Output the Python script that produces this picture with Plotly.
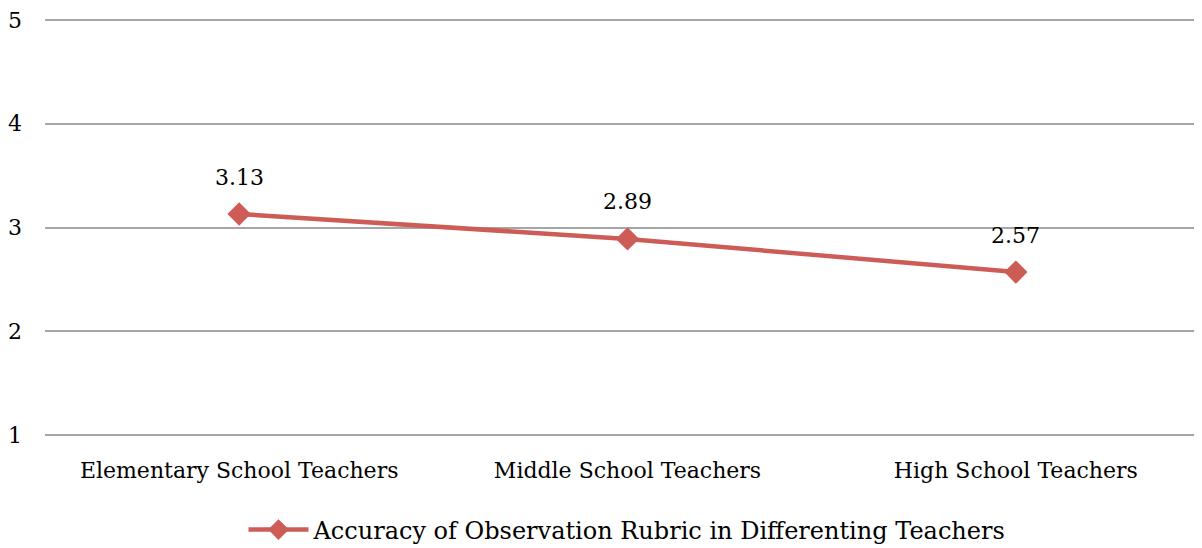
import plotly.graph_objects as go

categories = ["Elementary School Teachers", "Middle School Teachers", "High School Teachers"]
values = [3.13, 2.89, 2.57]
labels = ["3.13", "2.89", "2.57"]
series_name = "Accuracy of Observation Rubric in Differenting Teachers"
y_ticks = [1, 2, 3, 4, 5]

color = "#CD5C57"
font_family = "DejaVu Serif"

fig = go.Figure()
fig.add_trace(go.Scatter(
    x=categories, y=values, name=series_name,
    mode="lines+markers",
    line=dict(color=color, width=4.5),
    marker=dict(symbol="diamond", size=18, color=color),
))
for c, v, t in zip(categories, values, labels):
    fig.add_annotation(x=c, y=v, text=t, showarrow=False, yshift=37,
                       font=dict(family=font_family, size=22, color="black"))

fig.update_layout(
    width=1202, height=548,
    margin=dict(l=37, r=0, t=9, b=118, autoexpand=False),
    paper_bgcolor="white", plot_bgcolor="white",
    font=dict(family=font_family, size=22, color="black"),
    showlegend=True,
    legend=dict(orientation="h", x=0.5, xanchor="center", y=-0.2185, yanchor="middle",
                font=dict(family=font_family, size=24), itemwidth=60),
)
fig.update_xaxes(showgrid=False, showline=False, zeroline=False, ticks="", automargin=False,
                 range=[-0.5, 2.5], tickfont=dict(size=22), ticklabelstandoff=17)
fig.update_yaxes(range=[0.971, 5.029], tickvals=y_ticks, showgrid=True, gridcolor="#A6A6A6",
                 gridwidth=2, zeroline=False, showline=False, ticks="", ticklabelstandoff=22,
                 automargin=False, tickfont=dict(size=22), ticklabeloverflow="allow")
fig.write_html("out.html")
